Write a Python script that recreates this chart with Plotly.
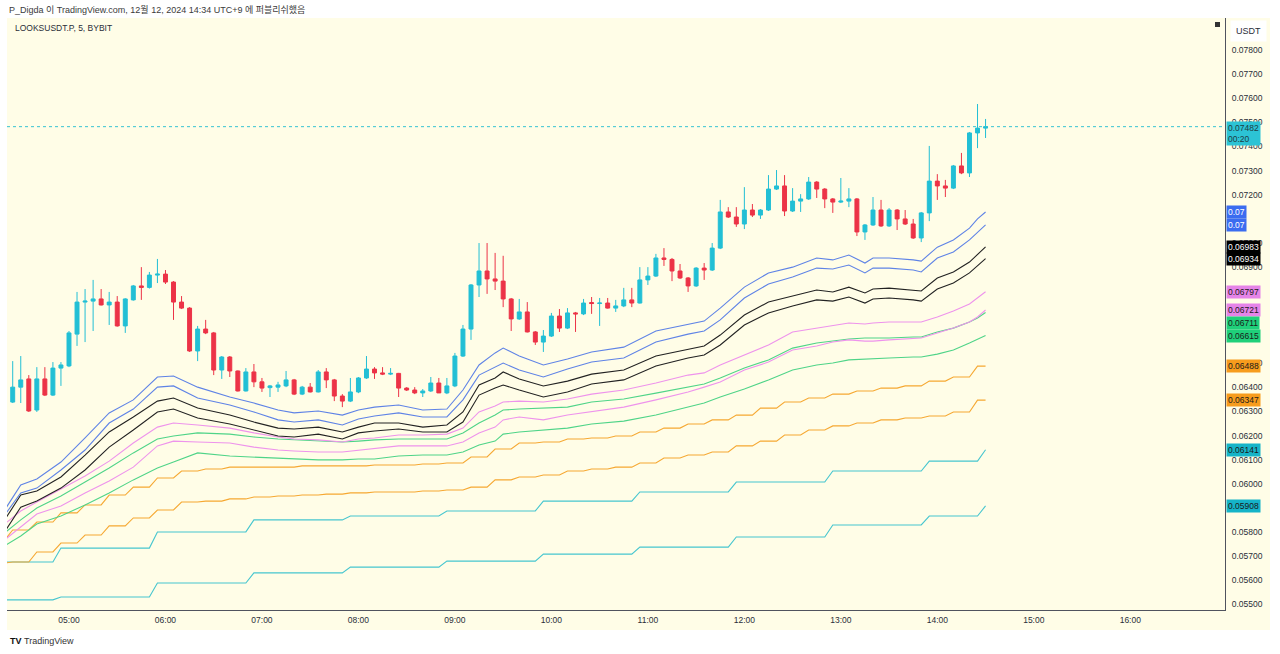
import pandas as pd
import plotly.graph_objects as go

DAY = "2024-12-12"
FIRST_BAR = "04:25"

# ---------------- candles (5 min, LOOKSUSDT.P) ----------------
OPEN = [0.06339,0.06401,0.06435,0.06306,0.06435,0.06368,0.06480,0.06489,0.06621,0.06754,
        0.06758,0.06767,0.06742,0.06754,0.06655,0.06763,0.06821,0.06815,0.06866,0.06870,
        0.06837,0.06754,0.06729,0.06551,0.06642,0.06626,0.06472,0.06526,0.06468,0.06385,
        0.06464,0.06423,0.06399,0.06401,0.06406,0.06431,0.06372,0.06401,0.06381,0.06464,
        0.06431,0.06364,0.06343,0.06381,0.06439,0.06476,0.06460,0.06455,0.06458,0.06397,
        0.06389,0.06377,0.06385,0.06418,0.06377,0.06406,0.06530,0.06642,0.06825,0.06883,
        0.06850,0.06841,0.06767,0.06684,0.06713,0.06630,0.06588,0.06613,0.06696,0.06646,
        0.06709,0.06705,0.06752,0.06748,0.06750,0.06729,0.06738,0.06763,0.06750,0.06846,
        0.06862,0.06937,0.06931,0.06883,0.06854,0.06821,0.06895,0.06887,0.06978,0.07128,
        0.07107,0.07078,0.07136,0.07115,0.07136,0.07223,0.07236,0.07132,0.07173,0.07182,
        0.07252,0.07223,0.07182,0.07169,0.07173,0.07182,0.07045,0.07074,0.07136,0.07070,
        0.07136,0.07099,0.07078,0.07020,0.07124,0.07256,0.07236,0.07227,0.07319,0.07290,
        0.07456,0.07476]
HIGH = [0.06509,0.06530,0.06451,0.06484,0.06484,0.06505,0.06505,0.06634,0.06796,0.06808,
        0.06846,0.06808,0.06796,0.06779,0.06770,0.06825,0.06899,0.06879,0.06933,0.06887,
        0.06841,0.06779,0.06733,0.06655,0.06680,0.06630,0.06530,0.06530,0.06470,0.06480,
        0.06497,0.06439,0.06410,0.06423,0.06468,0.06435,0.06406,0.06418,0.06472,0.06480,
        0.06435,0.06372,0.06439,0.06443,0.06530,0.06484,0.06484,0.06480,0.06460,0.06401,
        0.06401,0.06393,0.06443,0.06439,0.06439,0.06543,0.06659,0.06829,0.06999,0.06999,
        0.06958,0.06946,0.06771,0.06767,0.06754,0.06634,0.06638,0.06709,0.06725,0.06729,
        0.06713,0.06767,0.06775,0.06771,0.06771,0.06763,0.06813,0.06813,0.06899,0.06899,
        0.06954,0.06978,0.06937,0.06912,0.06858,0.06899,0.06916,0.06999,0.07178,0.07148,
        0.07148,0.07231,0.07161,0.07140,0.07281,0.07302,0.07281,0.07227,0.07202,0.07273,
        0.07256,0.07227,0.07186,0.07269,0.07227,0.07186,0.07078,0.07190,0.07178,0.07144,
        0.07140,0.07136,0.07099,0.07128,0.07402,0.07285,0.07261,0.07323,0.07373,0.07460,
        0.07576,0.07514]
LOW = [0.06335,0.06335,0.06298,0.06298,0.06364,0.06364,0.06406,0.06484,0.06572,0.06588,
       0.06634,0.06740,0.06659,0.06652,0.06626,0.06760,0.06763,0.06810,0.06833,0.06829,
       0.06680,0.06725,0.06547,0.06509,0.06621,0.06451,0.06435,0.06443,0.06383,0.06383,
       0.06401,0.06381,0.06360,0.06381,0.06401,0.06368,0.06368,0.06379,0.06379,0.06397,
       0.06343,0.06318,0.06339,0.06376,0.06435,0.06435,0.06451,0.06451,0.06360,0.06385,
       0.06372,0.06360,0.06381,0.06377,0.06372,0.06401,0.06526,0.06597,0.06775,0.06788,
       0.06804,0.06733,0.06634,0.06680,0.06628,0.06576,0.06547,0.06609,0.06630,0.06642,
       0.06630,0.06700,0.06705,0.06655,0.06727,0.06713,0.06733,0.06733,0.06748,0.06825,
       0.06858,0.06904,0.06841,0.06850,0.06796,0.06817,0.06846,0.06883,0.06974,0.07103,
       0.07066,0.07057,0.07107,0.07099,0.07132,0.07219,0.07111,0.07128,0.07128,0.07178,
       0.07186,0.07144,0.07124,0.07165,0.07148,0.07028,0.07012,0.07070,0.07066,0.07066,
       0.07053,0.07074,0.07016,0.07003,0.07090,0.07178,0.07190,0.07223,0.07285,0.07273,
       0.07393,0.07435]
CLOSE = [0.06401,0.06431,0.06302,0.06435,0.06368,0.06480,0.06493,0.06626,0.06754,0.06758,
         0.06767,0.06742,0.06754,0.06655,0.06767,0.06821,0.06815,0.06866,0.06870,0.06837,
         0.06754,0.06729,0.06551,0.06642,0.06626,0.06472,0.06526,0.06468,0.06385,0.06464,
         0.06423,0.06397,0.06406,0.06410,0.06431,0.06372,0.06401,0.06381,0.06464,0.06431,
         0.06364,0.06343,0.06381,0.06439,0.06476,0.06460,0.06455,0.06458,0.06397,0.06389,
         0.06377,0.06385,0.06418,0.06377,0.06406,0.06530,0.06642,0.06825,0.06883,0.06850,
         0.06841,0.06767,0.06684,0.06713,0.06630,0.06588,0.06613,0.06696,0.06646,0.06709,
         0.06705,0.06750,0.06748,0.06750,0.06729,0.06738,0.06763,0.06750,0.06846,0.06862,
         0.06937,0.06931,0.06883,0.06854,0.06821,0.06895,0.06887,0.06978,0.07128,0.07107,
         0.07078,0.07136,0.07115,0.07136,0.07223,0.07236,0.07132,0.07173,0.07182,0.07252,
         0.07223,0.07182,0.07169,0.07173,0.07182,0.07045,0.07074,0.07136,0.07070,0.07136,
         0.07099,0.07078,0.07020,0.07124,0.07256,0.07236,0.07227,0.07319,0.07290,0.07456,
         0.07476,0.07482]

# ---------------- smooth moving-average bands ----------------
LINE_TIMES = ["04:20","04:30","04:40","04:55","05:10","05:25","05:40","05:55","06:05","06:20",
              "06:40","06:55","07:10","07:20","07:35","07:50","08:00","08:10","08:25","08:40",
              "08:55","09:05","09:15","09:25","09:30","09:40","09:55","10:10","10:25","10:45",
              "11:05","11:25","11:35","11:45","12:00","12:15","12:30","12:45","12:55","13:05",
              "13:15","13:20","13:30","13:45","13:50","14:00","14:10","14:20","14:25","14:30"]
BLUE_UP = [0.05891,0.05995,0.06020,0.06090,0.06190,0.06294,0.06348,0.06443,0.06447,0.06401,
           0.06360,0.06335,0.06306,0.06294,0.06302,0.06285,0.06306,0.06318,0.06327,0.06306,
           0.06310,0.06389,0.06493,0.06543,0.06563,0.06530,0.06493,0.06518,0.06547,0.06567,
           0.06634,0.06663,0.06675,0.06729,0.06816,0.06875,0.06899,0.06937,0.06929,0.06949,
           0.06916,0.06937,0.06937,0.06929,0.06924,0.06982,0.07012,0.07061,0.07099,0.07128]
BLUE_LO = [0.05870,0.05962,0.05982,0.06057,0.06140,0.06252,0.06310,0.06401,0.06406,0.06356,
           0.06327,0.06298,0.06265,0.06256,0.06265,0.06244,0.06269,0.06281,0.06294,0.06277,
           0.06277,0.06348,0.06451,0.06484,0.06501,0.06472,0.06443,0.06476,0.06505,0.06522,
           0.06588,0.06621,0.06634,0.06680,0.06771,0.06829,0.06858,0.06895,0.06891,0.06908,
           0.06875,0.06895,0.06895,0.06887,0.06879,0.06937,0.06962,0.07012,0.07045,0.07074]
BLACK_UP = [0.05850,0.05953,0.05970,0.06028,0.06119,0.06215,0.06277,0.06343,0.06356,0.06314,
            0.06285,0.06256,0.06231,0.06227,0.06235,0.06215,0.06235,0.06252,0.06252,0.06235,
            0.06244,0.06298,0.06410,0.06439,0.06464,0.06435,0.06406,0.06426,0.06455,0.06472,
            0.06530,0.06559,0.06572,0.06617,0.06700,0.06754,0.06779,0.06804,0.06796,0.06816,
            0.06792,0.06808,0.06812,0.06804,0.06800,0.06854,0.06879,0.06920,0.06953,0.06983]
BLACK_LO = [0.05800,0.05903,0.05928,0.05982,0.06057,0.06152,0.06223,0.06298,0.06310,0.06273,
            0.06248,0.06223,0.06198,0.06194,0.06206,0.06186,0.06211,0.06219,0.06227,0.06215,
            0.06215,0.06256,0.06368,0.06397,0.06410,0.06389,0.06360,0.06381,0.06414,0.06431,
            0.06489,0.06522,0.06534,0.06576,0.06659,0.06709,0.06738,0.06763,0.06758,0.06775,
            0.06750,0.06767,0.06771,0.06763,0.06758,0.06808,0.06833,0.06875,0.06904,0.06934]
VIOLET_UP = [0.05833,0.05887,0.05924,0.05978,0.06032,0.06094,0.06169,0.06235,0.06252,0.06244,
             0.06231,0.06211,0.06194,0.06186,0.06182,0.06173,0.06186,0.06190,0.06202,0.06202,
             0.06206,0.06231,0.06298,0.06323,0.06339,0.06343,0.06339,0.06352,0.06372,0.06389,
             0.06418,0.06451,0.06460,0.06493,0.06534,0.06576,0.06630,0.06646,0.06655,0.06667,
             0.06663,0.06667,0.06671,0.06671,0.06671,0.06692,0.06717,0.06746,0.06771,0.06797]
VIOLET_LO = [0.05767,0.05820,0.05874,0.05908,0.05962,0.06011,0.06069,0.06157,0.06177,0.06173,
             0.06169,0.06152,0.06140,0.06136,0.06132,0.06132,0.06140,0.06148,0.06157,0.06157,
             0.06157,0.06173,0.06211,0.06235,0.06265,0.06277,0.06265,0.06285,0.06298,0.06318,
             0.06348,0.06381,0.06401,0.06422,0.06472,0.06505,0.06555,0.06572,0.06588,0.06597,
             0.06592,0.06592,0.06597,0.06601,0.06605,0.06626,0.06646,0.06671,0.06692,0.06721]
GREEN_UP = [0.05796,0.05850,0.05899,0.05949,0.06007,0.06065,0.06128,0.06186,0.06198,0.06211,
            0.06206,0.06194,0.06186,0.06182,0.06177,0.06173,0.06177,0.06182,0.06186,0.06186,
            0.06186,0.06211,0.06252,0.06285,0.06306,0.06310,0.06314,0.06318,0.06339,0.06352,
            0.06376,0.06401,0.06414,0.06439,0.06480,0.06514,0.06563,0.06584,0.06592,0.06601,
            0.06605,0.06605,0.06605,0.06609,0.06609,0.06630,0.06646,0.06671,0.06688,0.06711]
GREEN_LO = [0.05742,0.05783,0.05833,0.05866,0.05912,0.05962,0.06016,0.06065,0.06090,0.06128,
            0.06115,0.06111,0.06107,0.06103,0.06099,0.06099,0.06103,0.06103,0.06115,0.06119,
            0.06119,0.06132,0.06161,0.06177,0.06206,0.06215,0.06223,0.06231,0.06248,0.06260,
            0.06285,0.06318,0.06335,0.06360,0.06393,0.06431,0.06472,0.06493,0.06501,0.06514,
            0.06518,0.06518,0.06522,0.06526,0.06526,0.06538,0.06555,0.06584,0.06601,0.06615]

# ---------------- 15-minute bands (one value per 15-min block) ----------------
ORANGE_FIRST_BLOCK = "04:10"
ORANGE_UP = [0.05767,0.05808,0.05841,0.05879,0.05912,0.05953,0.05986,0.06024,0.06053,0.06061,
             0.06069,0.06069,0.06069,0.06074,0.06074,0.06074,0.06078,0.06078,0.06082,0.06086,
             0.06111,0.06144,0.06169,0.06173,0.06186,0.06190,0.06198,0.06215,0.06231,0.06248,
             0.06265,0.06285,0.06314,0.06339,0.06356,0.06372,0.06385,0.06397,0.06406,0.06426,
             0.06443,0.06488]
ORANGE_LO = [0.05671,0.05675,0.05717,0.05754,0.05787,0.05825,0.05858,0.05891,0.05924,0.05928,
             0.05937,0.05945,0.05949,0.05953,0.05957,0.05962,0.05966,0.05966,0.05970,0.05974,
             0.05986,0.06016,0.06028,0.06036,0.06053,0.06061,0.06069,0.06086,0.06107,0.06119,
             0.06132,0.06157,0.06177,0.06202,0.06223,0.06240,0.06252,0.06265,0.06273,0.06281,
             0.06298,0.06347]

# ---------------- hourly bands ----------------
TEAL_STARTS = ["04:20","04:55","05:55","06:55","07:55","08:55","09:55","10:55","11:55","12:55","13:55","14:30"]
TEAL_UP = [0.05675,0.05733,0.05800,0.05850,0.05866,0.05887,0.05928,0.05966,0.06007,0.06053,0.06094,0.06141]
TEAL_LO = [0.05518,0.05530,0.05588,0.05630,0.05654,0.05679,0.05708,0.05737,0.05779,0.05829,0.05866,0.05908]

TIME_TICKS = ["05:00","06:00","07:00","08:00","09:00","10:00","11:00","12:00","13:00","14:00","15:00","16:00"]
# price ticks that are not fully hidden behind the right-side value labels
PRICE_TICKS = [0.055,0.056,0.057,0.058,0.060,0.061,0.062,0.063,0.064,0.065,
               0.069,0.070,0.072,0.073,0.074,0.075,0.076,0.077,0.078]
Y_RANGE = [0.05476, 0.07933]
X_RANGE = [DAY + " 04:21:27", DAY + " 16:58:54"]

BG = "#FFFDE7"
UP_C = "#22bfd5"
DN_C = "#ec3347"
FONT = "Liberation Sans, Noto Sans CJK KR, sans-serif"
TXT = "#2a2e39"

def ts(hhmm):
    return pd.Timestamp(DAY + " " + hhmm)

bar_times = pd.date_range(ts(FIRST_BAR), periods=len(OPEN), freq="5min")
last_time = bar_times[-1]

fig = go.Figure()

# hourly step lines
for vals in (TEAL_UP, TEAL_LO):
    xs, ys = [], []
    for k, v in enumerate(vals):
        s = ts(TEAL_STARTS[k])
        if k + 1 < len(vals):
            e = ts(TEAL_STARTS[k + 1]) - pd.Timedelta(minutes=5)
        else:
            e = s
        xs += [s, e]
        ys += [v, v]
    fig.add_trace(go.Scatter(x=xs, y=ys, mode="lines", line=dict(color="#47c6cf", width=1.1),
                             hoverinfo="skip"))

# 15-min step lines
for vals in (ORANGE_UP, ORANGE_LO):
    xs, ys = [], []
    for k, v in enumerate(vals):
        s = ts(ORANGE_FIRST_BLOCK) + pd.Timedelta(minutes=15 * k)
        e = min(s + pd.Timedelta(minutes=10), last_time)
        xs += [s, e]
        ys += [v, v]
    fig.add_trace(go.Scatter(x=xs, y=ys, mode="lines", line=dict(color="#f6a832", width=1.1),
                             hoverinfo="skip"))

lt = [ts(s) for s in LINE_TIMES]
for vals, col in [(GREEN_LO, "#4fd488"), (GREEN_UP, "#4fd488"),
                  (VIOLET_LO, "#ee93ec"), (VIOLET_UP, "#ee93ec"),
                  (BLACK_LO, "#222222"), (BLACK_UP, "#222222"),
                  (BLUE_LO, "#5f83e6"), (BLUE_UP, "#5f83e6")]:
    fig.add_trace(go.Scatter(x=lt, y=vals, mode="lines", line=dict(color=col, width=1.1),
                             hoverinfo="skip"))

fig.add_trace(go.Candlestick(
    x=bar_times, open=OPEN, high=HIGH, low=LOW, close=CLOSE,
    increasing=dict(line=dict(color=UP_C, width=1), fillcolor=UP_C),
    decreasing=dict(line=dict(color=DN_C, width=1), fillcolor=DN_C),
    whiskerwidth=0, hoverinfo="skip"))

shapes = []
W, H, L, R, T, B = 1280, 654, 7, 55, 18, 44
pw, ph = W - L - R, H - T - B
def px(x):
    return (x - L) / pw
def py(y):
    return (H - B - y) / ph
# white surroundings (chart panel is the yellow paper area)
for (x0, y0, x1, y1) in [(0, 0, W, T), (0, 630, W, H), (0, 0, L, H), (1270, 0, W, H)]:
    shapes.append(dict(type="rect", xref="paper", yref="paper", x0=px(x0), x1=px(x1),
                       y0=py(y0), y1=py(y1), fillcolor="white", line=dict(width=0), layer="below"))
# last price dotted line
shapes.append(dict(type="line", xref="paper", yref="y", x0=0, x1=1, y0=CLOSE[-1], y1=CLOSE[-1],
                   line=dict(color="#38c3d3", width=1, dash="dot")))
# small square icon
shapes.append(dict(type="rect", xref="paper", yref="paper", x0=px(1215), x1=px(1220), y0=py(27), y1=py(22),
                   fillcolor="#333333", line=dict(width=0)))

ann = []
ann.append(dict(xref="paper", yref="paper", x=px(7), y=py(10), xanchor="left", yanchor="middle",
                text="P_Digda 이 TradingView.com, 12월 12, 2024 14:34 UTC+9 에 퍼블리쉬했음",
                showarrow=False, font=dict(family=FONT, size=9, color="#3b3b3b")))
ann.append(dict(xref="paper", yref="paper", x=px(13), y=py(28), xanchor="left", yanchor="middle",
                text="LOOKSUSDT.P, 5, BYBIT", showarrow=False, font=dict(family=FONT, size=8.5, color=TXT)))
ann.append(dict(xref="paper", yref="paper", x=px(8), y=py(641), xanchor="left", yanchor="middle",
                text="<b>TV</b>", showarrow=False, font=dict(family=FONT, size=9, color="#111111")))
ann.append(dict(xref="paper", yref="paper", x=px(22), y=py(641), xanchor="left", yanchor="middle",
                text="TradingView", showarrow=False, font=dict(family=FONT, size=9, color="#333333")))
ann.append(dict(xref="paper", yref="paper", x=px(1248), y=py(31), xanchor="center", yanchor="middle",
                text="USDT", showarrow=False, bgcolor="white", borderpad=5,
                font=dict(family=FONT, size=9, color=TXT)))

# last price label
ann.append(dict(xref="paper", yref="y", x=px(1226), y=CLOSE[-1], xanchor="left", yanchor="top", yshift=6,
                text=f"{CLOSE[-1]:.5f}<br>00:20", showarrow=False, align="left", bgcolor="#2cc3d5",
                borderpad=1, font=dict(family=FONT, size=8.5, color="#1e3d44")))

labels = [
    (BLUE_UP[-1], "#3b6cf0", "white", 2), (BLUE_LO[-1], "#3b6cf0", "white", 2),
    (BLACK_UP[-1], "#000000", "white", 5), (BLACK_LO[-1], "#000000", "white", 5),
    (VIOLET_UP[-1], "#e584e8", "#1a1a1a", 5), (VIOLET_LO[-1], "#e584e8", "#1a1a1a", 5),
    (GREEN_UP[-1], "#1fd07a", "#1a1a1a", 5), (GREEN_LO[-1], "#1fd07a", "#1a1a1a", 5),
    (ORANGE_UP[-1], "#f79c1d", "#1a1a1a", 5), (ORANGE_LO[-1], "#f79c1d", "#1a1a1a", 5),
    (TEAL_UP[-1], "#15b4c8", "#1a1a1a", 5), (TEAL_LO[-1], "#15b4c8", "#1a1a1a", 5),
]
scale = ph / (Y_RANGE[1] - Y_RANGE[0])
prev = None
for v, bg, fc, dec in sorted(labels, key=lambda r: -r[0]):
    natural = (Y_RANGE[1] - v) * scale
    pos = natural if prev is None or natural >= prev + 12.5 else prev + 12.5
    prev = pos
    ann.append(dict(xref="paper", yref="y", x=px(1226), y=v, xanchor="left", yanchor="middle",
                    yshift=-(pos - natural), text=f"{v:.{dec}f}", showarrow=False, bgcolor=bg,
                    borderpad=1, font=dict(family=FONT, size=8.5, color=fc)))

fig.update_layout(
    width=W, height=H, margin=dict(l=L, r=R, t=T, b=B),
    paper_bgcolor=BG, plot_bgcolor=BG, showlegend=False, hovermode=False,
    shapes=shapes, annotations=ann,
    xaxis=dict(type="date", range=X_RANGE, rangeslider=dict(visible=False), showgrid=False,
               zeroline=False, showline=True, linecolor="#50535e", linewidth=1,
               tickvals=[ts(s) for s in TIME_TICKS], ticktext=TIME_TICKS,
               ticks="outside", ticklen=2, tickcolor=BG,
               tickfont=dict(family=FONT, size=8.5, color=TXT)),
    yaxis=dict(side="right", range=Y_RANGE, showgrid=False, zeroline=False, showline=True,
               linecolor="#50535e", linewidth=1, tickvals=PRICE_TICKS,
               ticktext=[f"{v:.5f}" for v in PRICE_TICKS], ticks="outside", ticklen=4,
               tickcolor=BG, tickfont=dict(family=FONT, size=8.5, color=TXT)),
)

fig.write_html("out.html", config={"displayModeBar": False},
               post_script="document.body.style.margin='0px';")
